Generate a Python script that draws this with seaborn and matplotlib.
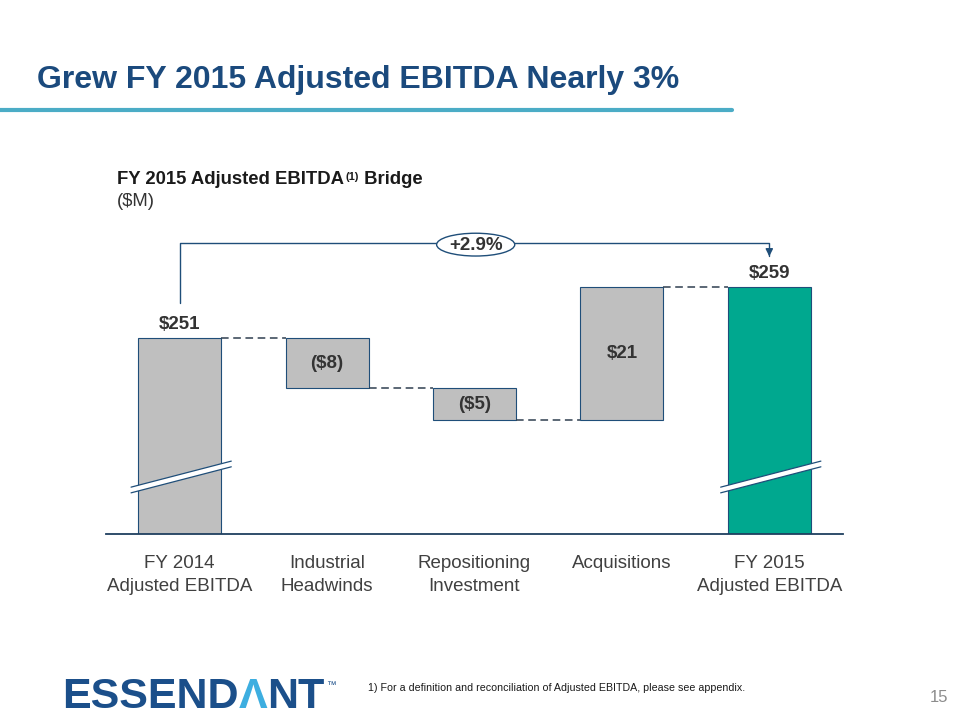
import numpy as np
import pandas as pd
import seaborn as sns
import matplotlib.pyplot as plt
from matplotlib.lines import Line2D
from matplotlib.patches import Ellipse, Polygon

# Data ($M)
categories = ["FY 2014\nAdjusted EBITDA", "Industrial\nHeadwinds",
              "Repositioning\nInvestment", "Acquisitions", "FY 2015\nAdjusted EBITDA"]
values = [251, -8, -5, 21, 259]
is_total = [True, False, False, False, True]
value_labels = ["$251", "($8)", "($5)", "$21", "$259"]
growth_label = "+2.9%"

navy = "#1F4E79"
gray = "#BFBFBF"
green = "#00A88F"
text_dark = "#333333"
bar_colors = [green if (t and i > 0) else gray for i, t in enumerate(is_total)]

# Running totals -> floating bar bottoms / tops
bottoms, tops, levels = [], [], []
running = 0
for v, t in zip(values, is_total):
    if t:
        bottoms.append(0)
        tops.append(v)
        running = v
    else:
        new = running + v
        bottoms.append(min(running, new))
        tops.append(max(running, new))
        running = new
    levels.append(running)

df = pd.DataFrame({"category": categories, "top": tops})

sns.set_theme(style="white")
plt.rcParams["font.family"] = ["Liberation Sans", "DejaVu Sans"]

fig = plt.figure(figsize=(9.6, 7.2), dpi=100)
ax = fig.add_axes([106 / 960, 1 - 534 / 720, 737 / 960, 309 / 720])

bar_w = 0.563
sns.barplot(data=df, x="category", y="top", hue="category", palette=bar_colors,
            saturation=1, width=bar_w, edgecolor=navy, linewidth=0.8,
            legend=False, ax=ax)

# turn the bars into floating waterfall bars
for p, b, t in zip(ax.patches, bottoms, tops):
    p.set_y(b)
    p.set_height(t - b)

ax.set_xlim(-0.5, 4.5)
ax.set_ylim(220, 268.8)
ax.set_xlabel("")
ax.set_ylabel("")
ax.set_yticks([])
for s in ["left", "right", "top"]:
    ax.spines[s].set_visible(False)
ax.spines["bottom"].set_color("#1F3F5F")
ax.spines["bottom"].set_linewidth(1.3)
ax.tick_params(axis="x", length=0, pad=15, labelsize=13.5, labelcolor="#404040")
for lab in ax.get_xticklabels():
    lab.set_linespacing(1.45)

# dashed connectors
half = bar_w / 2
for i in range(len(values) - 1):
    ax.plot([i + half, i + 1 - half], [levels[i], levels[i]],
            ls=(0, (5, 3)), color="#2F3F50", lw=1.1)

# value labels
for i, (lab, t) in enumerate(zip(value_labels, is_total)):
    if t:
        ax.annotate(lab, xy=(i, tops[i]), xytext=(0, 3.5), textcoords="offset points",
                    ha="center", va="bottom", fontsize=13.5, fontweight="bold",
                    color=text_dark)
    else:
        ax.text(i, (bottoms[i] + tops[i]) / 2, lab, ha="center", va="center",
                fontsize=13.5, fontweight="bold", color=text_dark)

# axis break marks on the total bars
for i, t in enumerate(is_total):
    if not t:
        continue
    x0, x1 = i - 0.33, i + 0.35
    y0, y1 = 226.95, 231.06
    h = 0.45
    ax.add_patch(Polygon([(x0, y0 - h), (x1, y1 - h), (x1, y1 + h), (x0, y0 + h)],
                         closed=True, facecolor="white", edgecolor="none", zorder=5))
    for d in (-h, h):
        ax.plot([x0, x1], [y0 + d, y1 + d], color=navy, lw=0.9, zorder=6)

# growth bracket
y_start, y_top, y_tip = 256.5, 266.0, 263.4
ax.plot([0, 0, 4, 4], [y_start, y_top, y_top, y_tip + 0.5], color=navy, lw=1,
        clip_on=False, zorder=3)
ax.annotate("", xy=(4, y_tip), xytext=(4, y_top - 0.5),
            arrowprops=dict(arrowstyle="-|>", color=navy, lw=1, mutation_scale=11),
            annotation_clip=False)
ax.add_patch(Ellipse((2.008, 265.7), 0.53, 3.6, facecolor="white", edgecolor=navy,
                     lw=1, clip_on=False, zorder=7))
ax.text(2.008, 265.55, growth_label, ha="center", va="center", fontsize=13.5,
        fontweight="bold", color=text_dark, zorder=8, clip_on=False)

# slide title and rule
fig.text(37 / 960, 1 - 88 / 720, "Grew FY 2015 Adjusted EBITDA Nearly 3%",
         fontsize=23, fontweight="bold", color="#1B4A7D", va="baseline")
fig.add_artist(Line2D([0, 732 / 960], [1 - 110 / 720] * 2, color="#4BACC6", lw=3))

# chart subtitle with superscript
sub_kw = dict(fontsize=13.3, fontweight="bold", color="#1A1A1A")
t1 = fig.text(117 / 960, 1 - 184 / 720, "FY 2015 Adjusted EBITDA", va="baseline", **sub_kw)
t2 = ax.annotate("(1)", xy=(1, 1), xycoords=t1, xytext=(1, -1), textcoords="offset points",
                 va="top", ha="left", fontsize=8, fontweight="bold", color="#1A1A1A",
                 annotation_clip=False)
ax.annotate(" Bridge", xy=(1, 0), xycoords=(t2, t1), va="bottom", ha="left",
            annotation_clip=False, **sub_kw)
fig.text(117 / 960, 1 - 206 / 720, "($M)", fontsize=13.3, color="#333333", va="baseline")

# logo
l1 = fig.text(62 / 960, 1 - 708 / 720, "ESSEND", fontsize=31, fontweight="bold",
              color="#1B4F8A", va="baseline")
l2 = ax.annotate("\u039b", xy=(1, 0), xycoords=l1, va="bottom", ha="left", fontsize=31,
                 fontweight="bold", color="#3DAEE0", annotation_clip=False)
l3 = ax.annotate("NT", xy=(1, 0), xycoords=l2, va="bottom", ha="left", fontsize=31,
                 fontweight="bold", color="#1B4F8A", annotation_clip=False)
ax.annotate("\u2122", xy=(1, 1), xycoords=l3, xytext=(1, -2), textcoords="offset points",
            va="top", ha="left", fontsize=7, color="#1B4F8A", annotation_clip=False)

# footnote and page number
fig.text(368 / 960, 1 - 688 / 720,
         "1) For a definition and reconciliation of Adjusted EBITDA, please see appendix.",
         fontsize=7.7, color="#1A1A1A", va="center")
fig.text(948 / 960, 1 - 698 / 720, "15", fontsize=12, color="#8C8C8C", ha="right",
         va="center")

fig.savefig("out.png", dpi=100)
